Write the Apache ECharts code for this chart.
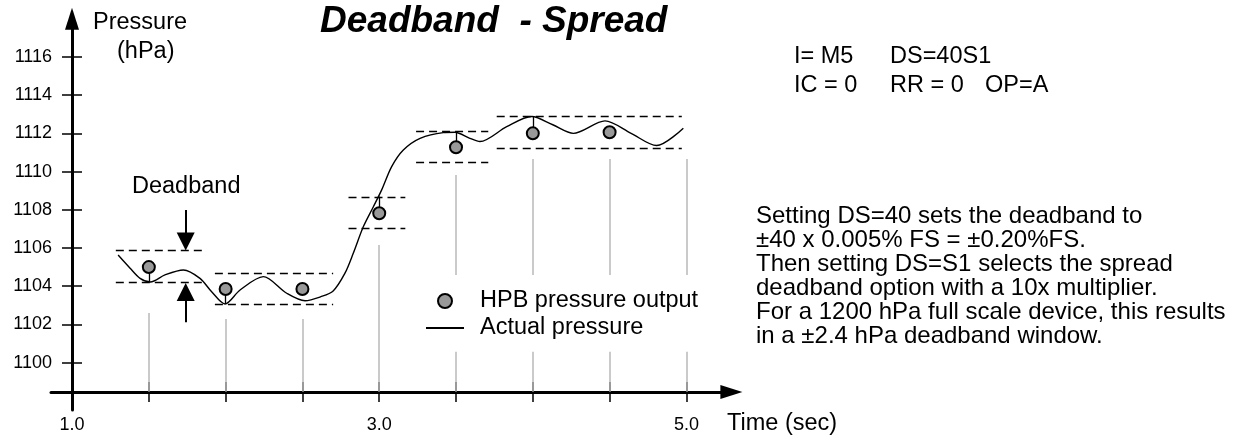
<!DOCTYPE html>
<html>
<head>
<meta charset="utf-8">
<script src="https://cdn.jsdelivr.net/npm/echarts@6/dist/echarts.min.js"></script>
<style>
html, body { margin: 0; padding: 0; background: #fff; }
#chart { width: 1246px; height: 446px; }
</style>
</head>
<body>
<div id="chart"></div>
<script>
// actual pressure (time in sec, pressure in hPa)
var curveT = [1.30, 1.378, 1.443, 1.51, 1.605, 1.725, 1.833, 1.909, 1.996, 2.094, 2.245, 2.398, 2.517, 2.62, 2.70,
    2.777, 2.831, 2.897, 2.962, 3.016, 3.081, 3.157, 3.266, 3.417, 3.493, 3.59, 3.656, 3.83, 3.993, 4.13, 4.264,
    4.47, 4.64, 4.806, 4.98];
var curveP = [1105.63, 1104.94, 1104.41, 1104.22, 1104.59, 1104.85, 1104.41, 1103.71, 1103.07, 1103.80, 1104.50, 1103.63, 1103.24, 1103.45, 1103.75,
    1104.68, 1105.72, 1107.12, 1108.16, 1109.04, 1110.26, 1111.13, 1111.74, 1112.04, 1112.06, 1111.74, 1111.57, 1112.35, 1112.88, 1112.45, 1112.0,
    1112.65, 1112.0, 1111.36, 1112.27];

// HPB pressure output
var outputT = [1.5, 2.0, 2.5, 3.0, 3.5, 4.0, 4.5];
var outputP = [1105.0, 1103.85, 1103.85, 1107.82, 1111.27, 1112.0, 1112.06];

// deadband windows
var bandFrom = [1.285, 1.93, 2.80, 3.24, 3.765];
var bandTo = [1.855, 2.70, 3.17, 3.71, 4.97];
var bandHigh = [1105.86, 1104.68, 1108.64, 1112.09, 1112.88];
var bandLow = [1104.20, 1103.07, 1107.03, 1110.47, 1111.22];

// stems from output point to the actual curve
var stemT = [1.5, 2.0, 3.0, 3.5, 4.0];
var stemFrom = [1105.0, 1103.85, 1107.82, 1111.27, 1112.0];
var stemTo = [1104.22, 1103.07, 1108.7, 1112.06, 1112.88];

// gray sample guides
var guideT = [1.5, 2.0, 2.5, 3.0, 3.5, 4.0, 4.5, 5.0];
var guideTop = [1102.6, 1102.28, 1102.28, 1106.16, 1109.82, 1110.66, 1110.66, 1110.66];

// axes
var xTicks = [1.5, 2.0, 2.5, 3.0, 3.5, 4.0, 4.5, 5.0];
var xLabels = [1.0, 3.0, 5.0];
var yTicks = [1100, 1102, 1104, 1106, 1108, 1110, 1112, 1114, 1116];

var X_MIN = 0.863, X_MAX = 5.293, Y_MIN = 1097.52, Y_MAX = 1118.0;
var X_CROSS = 1098.48;           // pressure where the time axis sits
var GAP = [1100.57, 1104.59];    // guides are cut behind the legend
var FONT = 'Liberation Sans';

var guideLines = [];
guideT.forEach(function (t, i) {
    if (t >= 3.5) {
        guideLines.push({coords: [[t, X_CROSS], [t, GAP[0]]]});
        guideLines.push({coords: [[t, GAP[1]], [t, guideTop[i]]]});
    } else {
        guideLines.push({coords: [[t, X_CROSS], [t, guideTop[i]]]});
    }
});
var bandLines = [];
bandFrom.forEach(function (t, i) {
    bandLines.push({coords: [[t, bandHigh[i]], [bandTo[i], bandHigh[i]]]});
    bandLines.push({coords: [[t, bandLow[i]], [bandTo[i], bandLow[i]]]});
});
var stemLines = stemT.map(function (t, i) {
    return {coords: [[t, stemFrom[i]], [t, stemTo[i]]]};
});
var curveData = curveT.map(function (t, i) { return [t, curveP[i]]; });
var outputData = outputT.map(function (t, i) { return [t, outputP[i]]; });

function xAxisOf(inside) {
    return {
        type: 'value', min: X_MIN, max: X_MAX, position: 'bottom', offset: -18,
        axisLine: {show: !inside, onZero: false, symbol: ['none', 'triangle'], symbolSize: [14, 22],
            lineStyle: {color: '#000', width: 3}},
        axisTick: {show: true, inside: inside, length: 10, customValues: xTicks, lineStyle: {color: '#000', width: 1.5}},
        axisLabel: {show: !inside, customValues: xLabels, margin: 24, fontSize: 18, color: '#000', fontFamily: FONT,
            formatter: function (v) { return v.toFixed(1); }},
        splitLine: {show: false}
    };
}
function yAxisOf(inside) {
    return {
        type: 'value', min: Y_MIN, max: Y_MAX, position: 'left', offset: -21,
        axisLine: {show: !inside, onZero: false, symbol: ['none', 'triangle'], symbolSize: [14, 22],
            lineStyle: {color: '#000', width: 3}},
        axisTick: {show: true, inside: inside, length: 10, customValues: yTicks, lineStyle: {color: '#000', width: 1.5}},
        axisLabel: {show: !inside, customValues: yTicks, margin: 20, fontSize: 18, color: '#000', fontFamily: FONT,
            formatter: function (v) { return String(v); }},
        splitLine: {show: false}
    };
}

function txt(x, y, s, size, extra) {
    var style = {text: s, x: 0, y: 0, fill: '#000', font: size + 'px "' + FONT + '"',
        textAlign: 'left', align: 'left', textVerticalAlign: 'middle', verticalAlign: 'middle'};
    for (var k in (extra || {})) style[k] = extra[k];
    return {type: 'text', x: x, y: y, silent: true, style: style};
}

var option = {
    animation: false,
    backgroundColor: '#fff',
    title: {
        text: 'Deadband  - Spread', left: 320, top: 3.5, padding: 0,
        textStyle: {fontFamily: FONT, fontSize: 37, fontStyle: 'italic', fontWeight: 'bold', color: '#000', lineHeight: 37}
    },
    grid: {left: 51, top: 18.7, width: 680.4, height: 391.3, containLabel: false, outerBoundsMode: 'none'},
    xAxis: [xAxisOf(false), xAxisOf(true)],
    yAxis: [yAxisOf(false), yAxisOf(true)],
    legend: {
        orient: 'vertical', left: 425, top: 289, padding: 0, itemWidth: 38, itemHeight: 14, itemGap: 3,
        textStyle: {fontFamily: FONT, fontSize: 23.5, color: '#000', padding: [0, 0, 0, 11]},
        data: [
            {name: 'HPB pressure output', icon: 'circle'},
            {name: 'Actual pressure', itemStyle: {opacity: 0}}
        ]
    },
    series: [
        {
            name: 'guides', type: 'lines', coordinateSystem: 'cartesian2d', silent: true, z: 1,
            lineStyle: {color: '#b8b8b8', width: 1.5, opacity: 1}, data: guideLines
        },
        {
            name: 'deadband', type: 'lines', coordinateSystem: 'cartesian2d', silent: true, z: 2,
            lineStyle: {color: '#000', width: 1.4, type: [8, 5], opacity: 1}, data: bandLines
        },
        {
            name: 'Actual pressure', type: 'line', data: curveData, smooth: 0.3, symbol: 'none', z: 3,
            lineStyle: {color: '#000', width: 1.4}, itemStyle: {color: '#000'}
        },
        {
            name: 'stems', type: 'lines', coordinateSystem: 'cartesian2d', silent: true, z: 3,
            lineStyle: {color: '#000', width: 1.3, opacity: 1}, data: stemLines
        },
        {
            name: 'deadband arrows', type: 'lines', coordinateSystem: 'cartesian2d', silent: true, z: 3,
            symbol: ['none', 'triangle'], symbolSize: [10, 18],
            lineStyle: {color: '#000', width: 2, opacity: 1},
            data: [
                {coords: [[1.74, 1107.99], [1.74, 1106.34]]},
                {coords: [[1.74, 1102.11], [1.74, 1103.70]]}
            ]
        },
        {
            name: 'HPB pressure output', type: 'scatter', data: outputData, symbol: 'circle', symbolSize: 12, z: 5,
            itemStyle: {color: '#999999', borderColor: '#000', borderWidth: 2, opacity: 1}
        }
    ],
    graphic: [
        txt(93, 23, 'Pressure', 23.5),
        txt(117, 52, '(hPa)', 23.5),
        txt(132, 187, 'Deadband', 23.5),
        txt(727, 424, 'Time (sec)', 23.5),
        txt(794, 57, 'I= M5', 23.5),
        txt(890, 57, 'DS=40S1', 23.5),
        txt(794, 86, 'IC = 0', 23.5),
        txt(890, 86, 'RR = 0', 23.5),
        txt(985, 86, 'OP=A', 23.5),
        txt(756, 204, 'Setting DS=40 sets the deadband to\n' +
            '\u00b140 x 0.005% FS = \u00b10.20%FS.\n' +
            'Then setting DS=S1 selects the spread\n' +
            'deadband option with a 10x multiplier.\n' +
            'For a 1200 hPa full scale device, this results\n' +
            'in a \u00b12.4 hPa deadband window.', 24,
            {textVerticalAlign: 'top', verticalAlign: 'top', lineHeight: 24})
    ]
};

var myChart = echarts.init(document.getElementById('chart'));
myChart.setOption(option);
</script>
</body>
</html>
